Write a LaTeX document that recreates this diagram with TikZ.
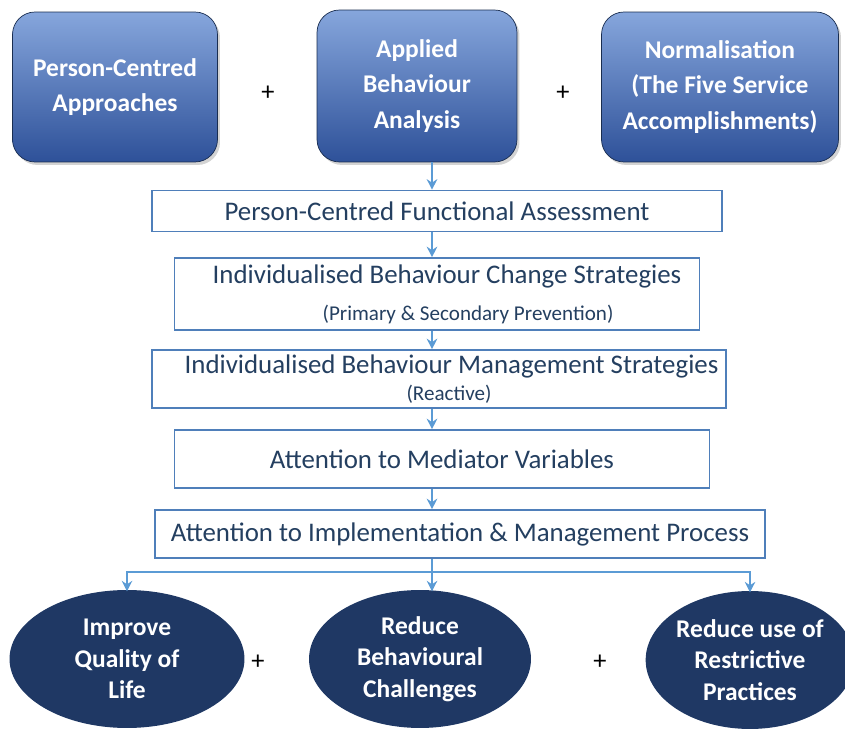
\documentclass[tikz,border=0pt]{standalone}
\usepackage{fontspec}
\setmainfont{Carlito}
\usetikzlibrary{positioning,shadows,shapes.geometric}
\usetikzlibrary{arrows.meta}
\definecolor{topb}{HTML}{2E5199}
\definecolor{topl}{HTML}{86A6DC}
\definecolor{navy}{HTML}{1F3864}
\definecolor{rline}{HTML}{4F7FBA}
\definecolor{rtext}{HTML}{243F60}
\definecolor{arrc}{HTML}{5B9BD5}
\newcommand{\subfont}{\fontsize{12}{14}\selectfont}

\begin{document}
\begin{tikzpicture}[x=0.02cm,y=-0.02cm,
	topbox/.style={draw=navy!80!black,rounded corners=0.45cm,top color=topl,bottom color=topb,
		drop shadow={opacity=0.35,shadow xshift=0.05cm,shadow yshift=-0.06cm},
		text=white,font=\fontsize{14.5}{20}\selectfont\bfseries,align=center,inner sep=2pt},
	stepbox/.style={draw=rline,line width=0.9pt,text=rtext,font=\fontsize{15.3}{17}\selectfont,align=center,inner sep=2pt},
	goal/.style={ellipse,fill=navy,text=white,font=\fontsize{14.5}{18}\selectfont\bfseries,align=center,inner sep=0pt},
	plus/.style={font=\fontsize{15}{15}\selectfont},
	arr/.style={draw=arrc,line width=0.9pt,-{Stealth[length=6pt,width=6pt]}}]
	\useasboundingbox (0,0) rectangle (845,732);
	
	% top row
	\node[topbox,minimum width=4.1cm,minimum height=3cm] (pca) at (115,87) {Person-Centred\\Approaches};
	\node[topbox,minimum width=4cm,minimum height=3.04cm] (aba) at (417,86) {Applied\\Behaviour\\Analysis};
	\node[topbox,minimum width=4.74cm,minimum height=3cm] (norm) at (720,87) {Normalisation\\(The Five Service\\Accomplishments)};
	\node[plus] (plus1) at (268,93) {+};
	\node[plus] (plus2) at (563,93) {+};
	
	% steps
	\node[stepbox,minimum width=11.4cm,minimum height=0.82cm] (fa) at (437,211) {Person-Centred Functional Assessment};
	\node[stepbox,minimum width=10.5cm,minimum height=1.44cm] (bcs) at (437,294) {\hspace*{0.4cm}Individualised Behaviour Change Strategies\\[4pt]\hspace*{1.24cm}{\subfont (Primary \& Secondary Prevention)}};
	\node[stepbox,minimum width=11.48cm,minimum height=1.16cm] (bms) at (439,379) {\hspace*{0.5cm}Individualised Behaviour Management Strategies\\[-2pt]\hspace*{0.4cm}{\subfont (Reactive)}};
	\node[stepbox,minimum width=10.7cm,minimum height=1.16cm] (mv) at (442,459) {Attention to Mediator Variables};
	\node[stepbox,minimum width=12.2cm,minimum height=0.96cm] (imp) at (460,534) {Attention to Implementation \& Management Process};
	\coordinate (split) at (432,572);
	
	% outcomes
	\node[goal,minimum width=4.7cm,minimum height=2.76cm] (qol) at (127,659) {Improve\\Quality of\\Life};
	\node[goal,minimum width=4.44cm,minimum height=2.76cm] (rbc) at (420,659) {Reduce\\Behavioural\\Challenges};
	\node[goal,minimum width=4cm,minimum height=2.76cm] (rrp) at (750,660) {Reduce use of\\Restrictive\\Practices};
	\node[plus] (plus3) at (258,662) {+};
	\node[plus] (plus4) at (600,662) {+};
	
	\draw[arr] (aba.south -| split) -- (fa.north -| split);
	\draw[arr] (fa.south -| split) -- (bcs.north -| split);
	\draw[arr] (bcs.south -| split) -- (bms.north -| split);
	\draw[arr] (bms.south -| split) -- (mv.north -| split);
	\draw[arr] (mv.south -| split) -- (imp.north -| split);
	\draw[draw=arrc,line width=0.9pt] (imp.south -| split) -- (split);
	\draw[arr] (split) -- (split -| qol) -- ([yshift=-1pt]qol.north);
	\draw[arr] (split) -- ([yshift=-1pt]rbc.north -| split);
	\draw[arr] (split) -- (split -| rrp) -- ([yshift=-1pt]rrp.north);
\end{tikzpicture}
\end{document}
